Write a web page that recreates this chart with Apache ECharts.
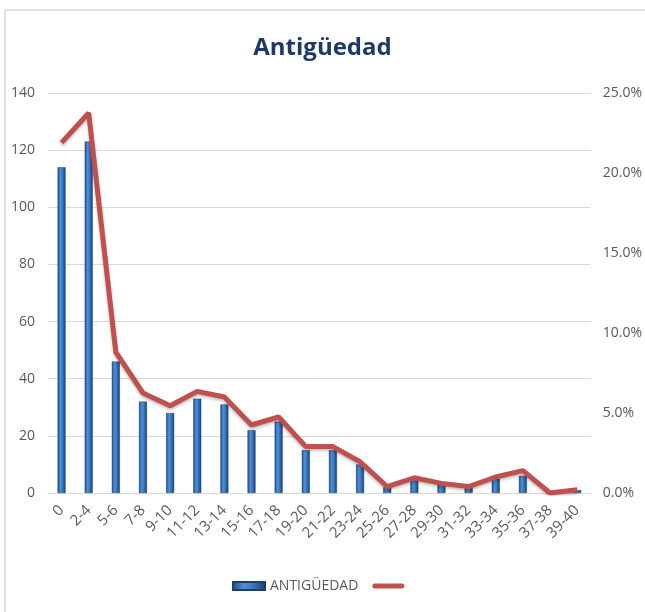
<!DOCTYPE html>
<html>
<head>
<meta charset="utf-8">
<script src="https://cdn.jsdelivr.net/npm/echarts@6/dist/echarts.min.js"></script>
<style>
  html, body { margin: 0; padding: 0; background: #fff; }
  #chart { width: 645px; height: 612px; }
</style>
</head>
<body>
<div id="chart"></div>
<script>
// Years-of-service brackets
const categories = ['0', '2-4', '5-6', '7-8', '9-10', '11-12', '13-14', '15-16', '17-18', '19-20',
  '21-22', '23-24', '25-26', '27-28', '29-30', '31-32', '33-34', '35-36', '37-38', '39-40'];
// Headcount per bracket (left axis)
const headcount = [114, 123, 46, 32, 28, 33, 31, 22, 25, 15, 15, 10, 2, 5, 3, 2, 5, 6, 0, 1];
// Share of total, in percent (right axis)
const sharePct = [21.9, 23.75, 8.8, 6.25, 5.45, 6.35, 6.0, 4.25, 4.75, 2.9, 2.9, 1.95, 0.4, 0.95, 0.6, 0.4, 1.0, 1.4, 0.0, 0.2];
// Axis ticks
const leftTicks = { min: 0, max: 140, interval: 20 };
const rightTicks = { min: 0, max: 25, interval: 5 };

const chart = echarts.init(document.getElementById('chart'), null, { renderer: 'canvas' });

const labelColor = '#595959';
const font = "'Open Sans', sans-serif";

const barGradient = new echarts.graphic.LinearGradient(0, 0, 1, 0, [
  { offset: 0, color: '#1d4a86' },
  { offset: 0.35, color: '#4f8fd8' },
  { offset: 0.6, color: '#3a78c4' },
  { offset: 1, color: '#173d70' }
]);

// thin rounded bar used as the line's legend key (padded to the 32x8 key box)
const lineKey = 'path://M0,0M32,8M2.5,1.5H29.5A2.5,2.5,0,0,1,29.5,6.5H2.5A2.5,2.5,0,0,1,2.5,1.5Z';

chart.setOption({
  animation: false,
  backgroundColor: '#ffffff',
  graphic: [{
    type: 'rect',
    shape: { x: 5, y: 10, width: 700, height: 700 },
    style: { fill: 'none', stroke: '#d9d9d9', lineWidth: 1.5 },
    silent: true
  }],
  title: {
    text: 'Antigüedad',
    left: 'center',
    top: 31,
    textStyle: { color: '#1f3864', fontSize: 24, fontWeight: 'bold', fontFamily: font }
  },
  legend: {
    bottom: 14,
    left: 'center',
    itemWidth: 32,
    itemHeight: 8,
    itemGap: 14,
    textStyle: { color: labelColor, fontSize: 14, fontFamily: font },
    data: [
      { name: 'ANTIGÜEDAD', icon: 'rect' },
      { name: ' ', icon: lineKey, itemStyle: { color: '#c0504d' } }
    ]
  },
  grid: { left: 48, right: 49, top: 93, bottom: 119 },
  xAxis: {
    type: 'category',
    data: categories,
    axisTick: { show: false },
    axisLine: { lineStyle: { color: '#d9d9d9' } },
    axisLabel: { color: labelColor, fontSize: 15, fontFamily: font, rotate: 45, interval: 0, margin: 15 }
  },
  yAxis: [{
    type: 'value',
    min: leftTicks.min, max: leftTicks.max, interval: leftTicks.interval,
    axisLine: { show: false },
    axisTick: { show: false },
    splitLine: { lineStyle: { color: '#d9d9d9', width: 1 } },
    axisLabel: { color: labelColor, fontSize: 14, fontFamily: font, margin: 13 }
  }, {
    type: 'value',
    min: rightTicks.min, max: rightTicks.max, interval: rightTicks.interval,
    axisLine: { show: false },
    axisTick: { show: false },
    splitLine: { show: false },
    axisLabel: { color: labelColor, fontSize: 14, fontFamily: font, margin: 12,
      formatter: v => v.toFixed(1) + '%' }
  }],
  series: [{
    name: 'ANTIGÜEDAD',
    type: 'bar',
    yAxisIndex: 0,
    data: headcount,
    barWidth: 8,
    itemStyle: { color: barGradient, borderColor: '#1b3f73', borderWidth: 0.5 }
  }, {
    name: ' ',
    type: 'line',
    yAxisIndex: 1,
    data: sharePct,
    symbol: 'none',
    lineStyle: { color: '#c0504d', width: 5, shadowColor: 'rgba(0,0,0,0.25)', shadowBlur: 3, shadowOffsetY: 2 },
    itemStyle: { color: '#c0504d' },
    z: 3
  }]
});
</script>
</body>
</html>
